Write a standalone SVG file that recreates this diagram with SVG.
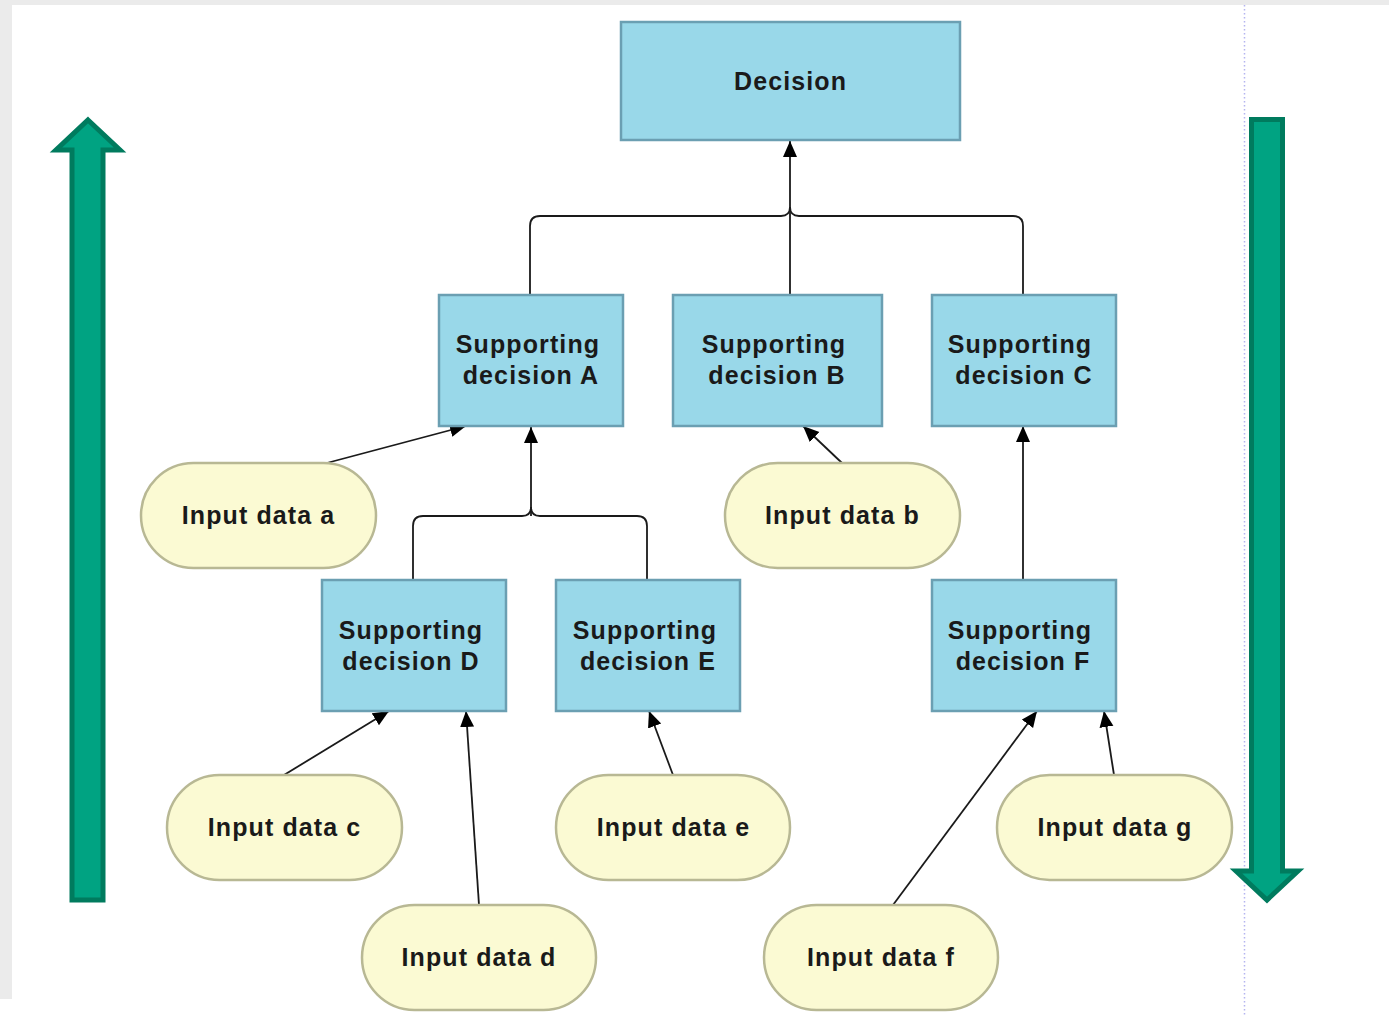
<svg xmlns="http://www.w3.org/2000/svg" width="1389" height="1017" viewBox="0 0 1389 1017">
<style>
.box{fill:#99d8e9;stroke:#6b9fb2;stroke-width:2.5}
.pill{fill:#fbfad3;stroke:#b8b894;stroke-width:2.5}
.t{font-family:"Liberation Sans",Arial,sans-serif;font-weight:bold;font-size:25px;fill:#1a1a1a;text-anchor:middle;letter-spacing:1.1px}
.c{fill:none;stroke:#1a1a1a;stroke-width:1.8}
.big{fill:#00a382;stroke:#007b5e;stroke-width:5}
</style>
<defs>
<marker id="ah" markerUnits="userSpaceOnUse" markerWidth="17" markerHeight="15" refX="16" refY="7" orient="auto">
<path d="M0,0 L16,7 L0,14 z" fill="#000"/>
</marker>
</defs>
<rect x="0" y="0" width="1389" height="1017" fill="#ffffff"/>
<rect x="0" y="0" width="1389" height="5" fill="#ebebeb"/>
<rect x="0" y="0" width="12" height="999" fill="#ebebeb"/>
<line x1="1244.5" y1="5" x2="1244.5" y2="1017" stroke="#b4b4f0" stroke-width="1.5" stroke-dasharray="1.5,2.5"/>
<g id="arrow-up">
<polygon class="big" points="88,120 120,150 103,150 103,900 72,900 72,150 56,150"/>
</g>
<g id="arrow-down">
<polygon class="big" points="1251.5,119.5 1282.5,119.5 1282.5,871 1298,871 1267,900 1236,871 1251.5,871"/>
</g>
<g id="connectors">
<path class="c" d="M530,294 V226 Q530,216 540,216 H781 Q790,216 790,207"/>
<path class="c" d="M1023,294 V226 Q1023,216 1013,216 H799 Q790,216 790,207"/>
<path class="c" d="M790,294 V141" marker-end="url(#ah)"/>
<path class="c" d="M413,580 V526 Q413,516 423,516 H522 Q531,516 531,507"/>
<path class="c" d="M647,580 V526 Q647,516 637,516 H540 Q531,516 531,507"/>
<path class="c" d="M531,516 V427" marker-end="url(#ah)"/>
<path class="c" d="M323,464 L466,426" marker-end="url(#ah)"/>
<path class="c" d="M842,463 L803,426" marker-end="url(#ah)"/>
<path class="c" d="M1023,580 V426" marker-end="url(#ah)"/>
<path class="c" d="M284,775 L389,711" marker-end="url(#ah)"/>
<path class="c" d="M479,905 L466,711" marker-end="url(#ah)"/>
<path class="c" d="M673,775 L649,711" marker-end="url(#ah)"/>
<path class="c" d="M893,905 L1037,711" marker-end="url(#ah)"/>
<path class="c" d="M1114,775 L1104,711" marker-end="url(#ah)"/>
</g>
<g id="decision">
<rect class="box" x="621" y="22" width="339" height="118"/>
<text class="t" x="790.5" y="90">Decision</text>
</g>
<g id="support-a">
<rect class="box" x="439" y="295" width="184" height="131"/>
<text class="t" x="528" y="353">Supporting</text>
<text class="t" x="531" y="384">decision A</text>
</g>
<g id="support-b">
<rect class="box" x="673" y="295" width="209" height="131"/>
<text class="t" x="774" y="353">Supporting</text>
<text class="t" x="777" y="384">decision B</text>
</g>
<g id="support-c">
<rect class="box" x="932" y="295" width="184" height="131"/>
<text class="t" x="1020" y="353">Supporting</text>
<text class="t" x="1024" y="384">decision C</text>
</g>
<g id="support-d">
<rect class="box" x="322" y="580" width="184" height="131"/>
<text class="t" x="411" y="639">Supporting</text>
<text class="t" x="411" y="670">decision D</text>
</g>
<g id="support-e">
<rect class="box" x="556" y="580" width="184" height="131"/>
<text class="t" x="645" y="639">Supporting</text>
<text class="t" x="648" y="670">decision E</text>
</g>
<g id="support-f">
<rect class="box" x="932" y="580" width="184" height="131"/>
<text class="t" x="1020" y="639">Supporting</text>
<text class="t" x="1023" y="670">decision F</text>
</g>
<g id="input-a">
<rect class="pill" x="141" y="463" width="235" height="105" rx="52.5"/>
<text class="t" x="258.5" y="524">Input data a</text>
</g>
<g id="input-b">
<rect class="pill" x="725" y="463" width="235" height="105" rx="52.5"/>
<text class="t" x="842.5" y="524">Input data b</text>
</g>
<g id="input-c">
<rect class="pill" x="167" y="775" width="235" height="105" rx="52.5"/>
<text class="t" x="284.5" y="836">Input data c</text>
</g>
<g id="input-d">
<rect class="pill" x="362" y="905" width="234" height="105" rx="52.5"/>
<text class="t" x="479" y="966">Input data d</text>
</g>
<g id="input-e">
<rect class="pill" x="556" y="775" width="234" height="105" rx="52.5"/>
<text class="t" x="673.5" y="836">Input data e</text>
</g>
<g id="input-f">
<rect class="pill" x="764" y="905" width="234" height="105" rx="52.5"/>
<text class="t" x="881" y="966">Input data f</text>
</g>
<g id="input-g">
<rect class="pill" x="997" y="775" width="235" height="105" rx="52.5"/>
<text class="t" x="1115" y="836">Input data g</text>
</g>
</svg>
